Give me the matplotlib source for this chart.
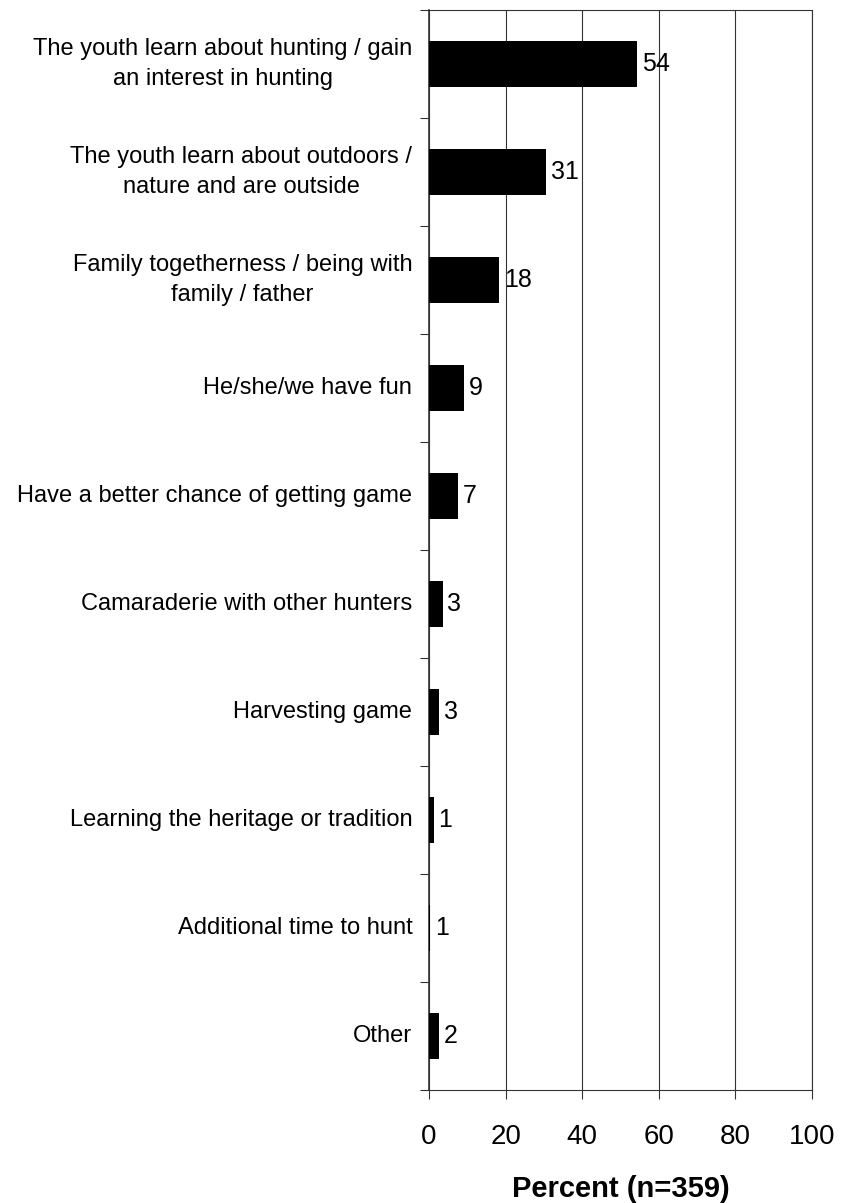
import numpy as np
import matplotlib.pyplot as plt

# categories top to bottom
categories = ['The youth learn about hunting / gain\nan interest in hunting',
              'The youth learn about outdoors /\nnature and are outside',
              'Family togetherness / being with\nfamily / father',
              'He/she/we have fun',
              'Have a better chance of getting game',
              'Camaraderie with other hunters',
              'Harvesting game',
              'Learning the heritage or tradition',
              'Additional time to hunt',
              'Other']
percent = [54.4, 30.6, 18.4, 9.1, 7.6, 3.6, 2.6, 1.3, 0.3, 2.6]
value_labels = ['54', '31', '18', '9', '7', '3', '3', '1', '1', '2']
xticks = [0, 20, 40, 60, 80, 100]

plt.rcParams['font.family'] = ['Liberation Sans', 'DejaVu Sans']

fig = plt.figure(figsize=(8.43, 12.03), dpi=100)
ax = fig.add_axes([429/843, 1 - 1090/1203, (812-429)/843, (1090-10)/1203])

y = np.arange(len(categories))
ax.barh(y, percent, height=0.42, color='black', zorder=3)
for yi, v, lab in zip(y, percent, value_labels):
    ax.text(v + 1.2, yi, lab, va='center', ha='left', fontsize=18, zorder=4)

ax.set_xlim(0, 100)
ax.set_ylim(len(categories) - 0.5, -0.5)
ax.set_xticks(xticks)
ax.set_xticklabels([str(t) for t in xticks], fontsize=20)
ax.set_yticks(y)
ax.set_yticklabels(categories, fontsize=17, linespacing=1.5, ha='right',
                   va='center', multialignment='center')
ax.set_yticks(np.arange(len(categories) + 1) - 0.5, minor=True)
ax.tick_params(axis='y', which='major', length=0, pad=12)
ax.tick_params(axis='y', which='minor', length=6.5, width=0.8, color='#333333')
ax.tick_params(axis='x', length=6.5, width=0.8, color='#333333', pad=18)

ax.xaxis.grid(True, color='#333333', linewidth=0.8, zorder=0)
for s in ax.spines.values():
    s.set_color('#333333')
    s.set_linewidth(0.8)
ax.spines['left'].set_linewidth(1.2)

ax.set_xlabel('Percent (n=359)', fontsize=21, fontweight='bold', labelpad=18)

plt.savefig('out.png', dpi=100)
